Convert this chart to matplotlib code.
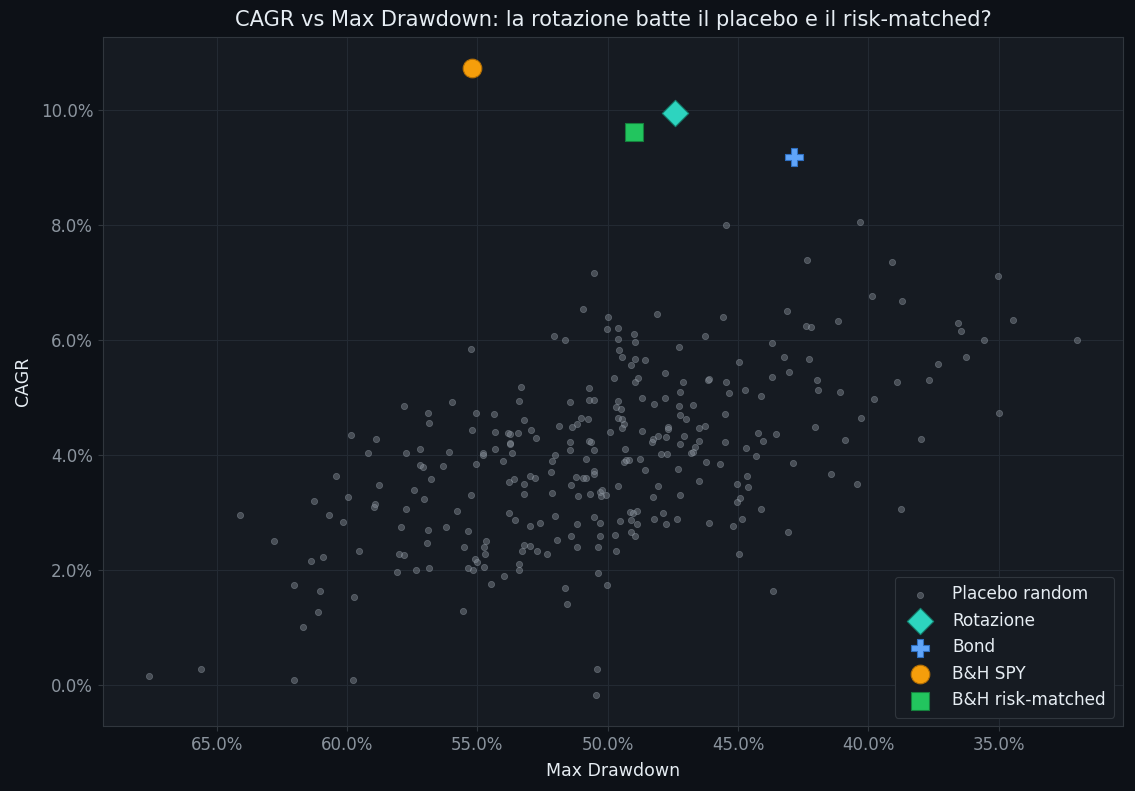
import matplotlib
matplotlib.use("Agg")
import matplotlib.pyplot as plt
from matplotlib.ticker import PercentFormatter

# Placebo random portfolios: max drawdown (%) and CAGR (%)
placebo_mdd = [
    64.10, 61.26, 60.69, 62.79, 61.38, 60.92, 62.03, 61.03, 61.11, 61.68, 67.58, 65.59, 62.03,
    57.82, 55.98, 56.90, 55.03, 56.86, 55.21, 59.85, 58.89, 59.20, 57.74, 57.21, 56.10, 57.18,
    57.08, 56.32, 55.06, 60.42, 58.78, 56.78, 57.43, 59.96, 58.93, 58.95, 57.05, 55.25, 60.16,
    57.74, 55.79, 57.93, 56.90, 56.21, 55.37, 56.94, 55.52, 59.54, 58.02, 57.82, 55.07, 55.02,
    58.09, 57.36, 56.86, 55.34, 55.15, 59.71, 55.56, 59.78,
    52.04, 51.65, 50.01, 55.25, 53.31, 53.38, 50.70, 50.70, 50.52, 51.46, 54.37, 53.19, 51.04,
    50.77, 51.16, 51.35, 51.88, 54.33, 53.84, 53.76, 53.45, 52.92, 52.76, 53.76, 53.73, 51.46,
    50.70, 50.62, 54.33, 54.79, 54.79, 53.68, 51.46, 50.54, 54.03, 52.00, 52.15, 50.81, 52.19,
    52.97, 52.80, 50.51, 50.54, 51.23, 50.93, 50.81, 53.61, 53.80, 53.22, 51.42, 53.22, 52.15,
    51.12, 50.66, 50.31, 50.20, 50.24, 50.05,
    53.80, 53.57, 52.99, 52.61, 52.00, 51.16, 50.54, 50.28, 54.68, 54.76, 54.72, 54.76, 53.30,
    53.19, 52.96, 52.69, 52.34, 51.96, 51.42, 51.19, 50.28, 50.35, 53.41, 53.38, 53.99, 54.49,
    50.35, 50.01, 51.62, 51.54, 50.39, 50.43,
    49.97, 48.09, 45.57, 49.59, 48.97, 49.59, 48.94, 46.26, 47.25, 49.55, 49.43, 48.94, 48.55,
    49.09, 44.95, 49.74, 48.82, 48.94, 47.79, 47.10, 46.14, 46.12, 45.45, 45.34, 44.72, 47.21,
    49.59, 49.66, 49.47, 48.67, 47.79, 48.21, 47.25, 46.72, 45.49, 49.59, 49.43, 49.39, 49.43,
    47.21, 46.98, 47.67, 47.67, 46.49, 46.26, 49.89, 48.67, 48.06, 47.75, 48.25, 48.28, 47.06,
    47.21, 46.49, 46.64, 45.49, 44.69, 49.32, 47.94, 47.71, 46.72, 46.79,
    49.39, 49.28, 49.17, 48.74, 46.22, 45.68, 48.55, 47.29, 46.49, 44.65, 45.03, 44.61, 49.59,
    48.06, 48.25, 47.21, 44.92, 45.03, 49.13, 49.01, 48.86, 49.09, 48.86, 49.51, 48.21, 47.86,
    47.75, 47.33, 46.10, 44.84, 45.18, 49.70, 49.09, 48.94, 49.66, 44.95,
    42.35, 39.10, 39.86, 43.12, 41.16, 42.39, 42.20, 43.69, 43.23, 42.27, 43.04, 43.69, 38.90,
    41.97, 41.93, 44.11, 41.09, 39.79, 40.28, 42.04, 44.23, 43.54, 44.04, 40.90, 44.30,
    35.04, 38.71, 36.57, 36.45, 34.46, 35.57, 32.01, 36.26, 37.34, 37.68, 35.00, 37.99, 38.75,
    42.89, 41.43, 40.44, 44.11, 43.08, 43.65,
    45.45, 40.32, 50.51, 50.93,
]
placebo_cagr = [
    2.97, 3.21, 2.97, 2.52, 2.17, 2.24, 1.75, 1.65, 1.27, 1.01, 0.17, 0.28, 0.10,
    4.86, 4.93, 4.74, 4.74, 4.57, 4.44, 4.36, 4.29, 4.05, 4.05, 4.11, 4.06, 3.84,
    3.80, 3.82, 3.85, 3.65, 3.49, 3.59, 3.40, 3.28, 3.15, 3.11, 3.25, 3.32, 2.85,
    3.06, 3.04, 2.76, 2.71, 2.76, 2.69, 2.47, 2.41, 2.34, 2.29, 2.27, 2.20, 2.14,
    1.98, 2.00, 2.05, 2.05, 2.00, 1.53, 1.30, 0.10,
    6.08, 6.00, 6.20, 5.85, 5.19, 4.95, 5.17, 4.97, 4.97, 4.93, 4.72, 4.61, 4.65,
    4.64, 4.55, 4.50, 4.51, 4.41, 4.39, 4.38, 4.39, 4.44, 4.31, 4.22, 4.19, 4.24,
    4.25, 4.24, 4.12, 4.05, 4.00, 4.05, 4.10, 4.10, 3.91, 4.01, 3.91, 3.94, 3.72,
    3.65, 3.61, 3.73, 3.68, 3.63, 3.61, 3.61, 3.59, 3.54, 3.51, 3.49, 3.33, 3.35,
    3.30, 3.33, 3.37, 3.40, 3.30, 3.32,
    2.99, 2.88, 2.78, 2.83, 2.95, 2.80, 2.93, 2.83, 2.52, 2.41, 2.29, 2.06, 2.34,
    2.45, 2.43, 2.33, 2.29, 2.53, 2.60, 2.40, 2.59, 2.40, 2.12, 2.00, 1.91, 1.77,
    1.96, 1.75, 1.70, 1.42, 0.28, -0.16,
    6.41, 6.46, 6.41, 6.22, 6.11, 6.02, 5.97, 6.08, 5.89, 5.83, 5.71, 5.68, 5.66,
    5.57, 5.63, 5.35, 5.35, 5.28, 5.43, 5.28, 5.31, 5.32, 5.28, 5.09, 5.14, 5.10,
    4.95, 4.84, 4.81, 5.00, 5.00, 4.90, 4.86, 4.88, 4.72, 4.65, 4.64, 4.55, 4.48,
    4.70, 4.64, 4.50, 4.46, 4.48, 4.51, 4.41, 4.43, 4.34, 4.32, 4.29, 4.24, 4.34,
    4.20, 4.25, 4.15, 4.24, 4.13, 4.11, 4.03, 4.03, 4.06, 4.05,
    3.89, 3.92, 3.92, 3.94, 3.89, 3.85, 3.75, 3.77, 3.56, 3.65, 3.51, 3.45, 3.47,
    3.47, 3.28, 3.32, 3.26, 3.19, 3.02, 2.99, 3.04, 2.88, 2.80, 2.86, 2.90, 2.99,
    2.81, 2.90, 2.83, 2.90, 2.78, 2.62, 2.66, 2.60, 2.33, 2.29,
    7.40, 7.36, 6.77, 6.51, 6.34, 6.25, 6.23, 5.95, 5.71, 5.68, 5.45, 5.36, 5.28,
    5.31, 5.14, 5.03, 5.10, 4.98, 4.65, 4.50, 4.39, 4.38, 4.25, 4.27, 3.99,
    7.12, 6.68, 6.30, 6.16, 6.35, 6.01, 6.01, 5.71, 5.59, 5.31, 4.74, 4.29, 3.06,
    3.87, 3.68, 3.51, 3.07, 2.66, 1.65,
    8.00, 8.06, 7.17, 6.55,
]

# Strategies
strat_names = ["Rotazione", "Bond", "B&H SPY", "B&H risk-matched"]
strat_mdd = [47.40, 42.85, 55.21, 48.97]
strat_cagr = [9.95, 9.18, 10.73, 9.62]
strat_markers = ["D", "P", "o", "s"]
strat_colors = ["#2dd4bf", "#60a5fa", "#f59e0b", "#22c55e"]
strat_edges = ["#14806f", "#2f6fc0", "#b36f05", "#15803d"]

FIG_BG = "#0d1117"
AX_BG = "#161b22"
GRID = "#232a33"
SPINE = "#30363d"
TICK = "#8b949e"
TEXT = "#e6edf3"

fig = plt.figure(figsize=(11.35, 7.91), dpi=100, facecolor=FIG_BG)
ax = fig.add_axes([0.0907, 0.0822, 0.8987, 0.871])
ax.set_facecolor(AX_BG)

ax.scatter(placebo_mdd, placebo_cagr, s=20, color="#8b949e", alpha=0.42,
           linewidths=0.6, edgecolors="#9aa3ad", label="Placebo random", zorder=2)
for n, x, y, m, c, e in zip(strat_names, strat_mdd, strat_cagr, strat_markers,
                            strat_colors, strat_edges):
    ax.scatter([x], [y], s=180, marker=m, color=c, edgecolors=e, linewidths=0.8,
               label=n, zorder=4)

ax.invert_xaxis()
ax.set_xticks([65, 60, 55, 50, 45, 40, 35])
ax.set_yticks([0, 2, 4, 6, 8, 10])
ax.xaxis.set_major_formatter(PercentFormatter(xmax=100, decimals=1))
ax.yaxis.set_major_formatter(PercentFormatter(xmax=100, decimals=1))

ax.grid(True, color=GRID, linewidth=0.8, zorder=0)
ax.set_axisbelow(True)
for sp in ax.spines.values():
    sp.set_color(SPINE)
    sp.set_linewidth(0.8)
ax.tick_params(colors=SPINE, labelcolor=TICK, labelsize=12, length=3.5, width=0.8)

ax.set_xlabel("Max Drawdown", color=TEXT, fontsize=12.5, labelpad=6)
ax.set_ylabel("CAGR", color=TEXT, fontsize=12.5, labelpad=6)
ax.set_title("CAGR vs Max Drawdown: la rotazione batte il placebo e il risk-matched?",
             color=TEXT, fontsize=15.1, pad=8)

leg = ax.legend(loc="lower right", fontsize=12.2, facecolor=AX_BG, edgecolor=SPINE,
                labelcolor=TEXT, framealpha=1.0, borderpad=0.5, handletextpad=0.9)
leg.get_frame().set_linewidth(0.8)

fig.savefig("out.png", dpi=100, facecolor=FIG_BG)
